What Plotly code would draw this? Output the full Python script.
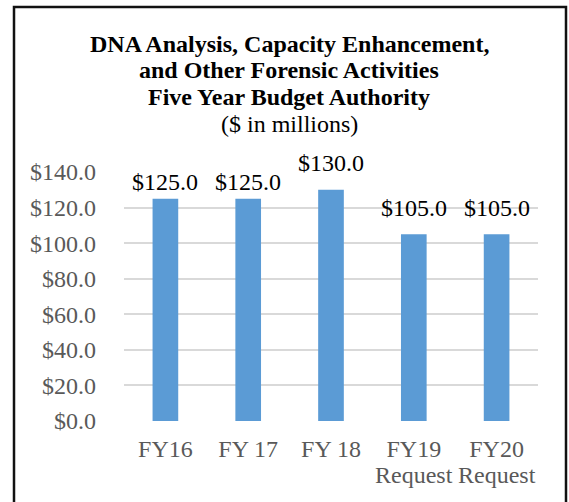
import plotly.graph_objects as go

categories = ["FY16", "FY 17", "FY 18", "FY19\nRequest", "FY20\nRequest"]
values = [125.0, 125.0, 130.0, 105.0, 105.0]
y_ticks = [0, 20, 40, 60, 80, 100, 120, 140]
y_tick_labels = ["$%.1f" % v for v in y_ticks]
title_lines = [
    "<b>DNA Analysis, Capacity Enhancement,</b>",
    "<b>and Other Forensic Activities</b>",
    "<b>Five Year Budget Authority</b>",
    "($ in millions)",
]

W, H = 569, 502
L, R, T, B = 124, 31, 172, 81
pw, ph = W - L - R, H - T - B


def px_x(p):
    return (p - L) / pw


def px_y(p):
    return (H - B - p) / ph


FONT = "Liberation Serif, Times New Roman, serif"
xs = list(range(len(categories)))
first_lines = [c.split("\n")[0] for c in categories]
label_shift = [17, 17, 27, 26, 26]  # pixel offsets of value labels above bar tops

fig = go.Figure(
    go.Bar(
        x=xs,
        y=values,
        marker=dict(color="#5b9bd5", line=dict(width=0)),
        width=0.31,
        hoverinfo="skip",
    )
)

fig.update_layout(
    width=W,
    height=H,
    margin=dict(l=L, r=R, t=T, b=B),
    paper_bgcolor="white",
    plot_bgcolor="white",
    showlegend=False,
    font=dict(family=FONT, size=24, color="#595959"),
    xaxis=dict(
        tickmode="array",
        tickvals=xs,
        ticktext=first_lines,
        range=[-0.5, len(categories) - 0.5],
        showgrid=False,
        zeroline=False,
        showline=False,
        ticks="",
        ticklabelstandoff=11,
        tickfont=dict(family=FONT, size=24, color="#595959"),
    ),
    yaxis=dict(
        range=[0, 140],
        tickmode="array",
        tickvals=y_ticks,
        ticktext=y_tick_labels,
        showgrid=True,
        gridcolor="#d9d9d9",
        gridwidth=1.5,
        zeroline=False,
        showline=False,
        ticks="",
        ticklabelstandoff=27,
        tickfont=dict(family=FONT, size=24, color="#595959"),
    ),
)

# value labels
for x, v, s in zip(xs, values, label_shift):
    fig.add_annotation(
        text="$%.1f" % v,
        xref="x",
        yref="y",
        x=x,
        y=v,
        yshift=s,
        xanchor="center",
        yanchor="middle",
        showarrow=False,
        font=dict(family=FONT, size=24, color="#000000"),
    )

# second line of the two-line category labels
for x, c in zip(xs, categories):
    parts = c.split("\n")
    if len(parts) > 1:
        fig.add_annotation(
            text=parts[1],
            xref="x",
            yref="paper",
            x=x,
            y=px_y(475),
            xanchor="center",
            yanchor="middle",
            showarrow=False,
            font=dict(family=FONT, size=24, color="#595959"),
        )

mids = [43.7, 70.4, 97.1, 123.8]
for txt, m in zip(title_lines, mids):
    fig.add_annotation(
        text=txt,
        xref="paper",
        yref="paper",
        x=px_x(289),
        y=px_y(m),
        xanchor="center",
        yanchor="middle",
        showarrow=False,
        font=dict(family=FONT, size=24, color="#000000"),
    )

fig.add_shape(
    type="rect",
    xref="paper",
    yref="paper",
    x0=px_x(14),
    x1=px_x(566),
    y0=px_y(515),
    y1=px_y(7),
    line=dict(color="#111111", width=2.5),
    fillcolor="rgba(0,0,0,0)",
    layer="below",
)

fig.write_html(
    "out.html",
    config={"displayModeBar": False},
    post_script="document.body.style.margin='0';document.body.style.overflow='hidden';",
)
